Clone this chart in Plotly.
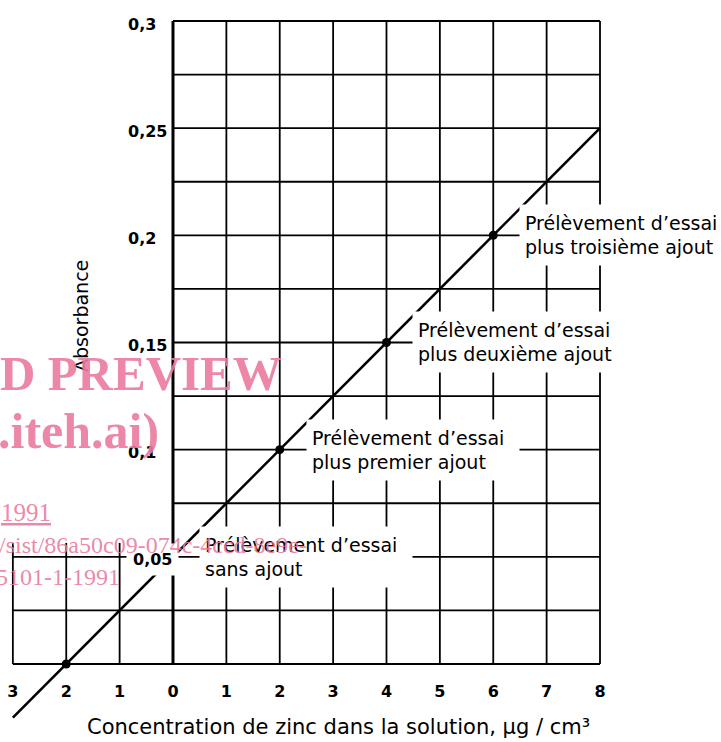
import plotly.graph_objects as go

# ---------------- data ----------------
conc = [-2, 0, 2, 4, 6]                       # µg/cm3 (point positions)
absorb = [0.0, 0.05, 0.10, 0.15, 0.20]        # absorbance at the points
fit_x = [-3, 8]                               # extent of the drawn straight line
fit_y = [-0.025, 0.25]

label_x = [6, 4, 2, 0]
label_y = [0.20, 0.15, 0.10, 0.05]
label_text = [
    "Prélèvement d’essai<br>plus troisième ajout",
    "Prélèvement d’essai<br>plus deuxième ajout",
    "Prélèvement d’essai<br>plus premier ajout",
    "Prélèvement d’essai<br>sans ajout",
]

x_tickvals = [-3, -2, -1, 0, 1, 2, 3, 4, 5, 6, 7, 8]
x_ticktext = ["3", "2", "1", "0", "1", "2", "3", "4", "5", "6", "7", "8"]
y_tickvals = [0.05, 0.10, 0.15, 0.20, 0.25, 0.30]
y_ticktext = ["0,05", "0,1", "0,15", "0,2", "0,25", "0,3"]

grid_x_main = [1, 2, 3, 4, 5, 6, 7, 8]
grid_x_left = [-3, -2, -1]
grid_y_main = [0.025, 0.05, 0.075, 0.10, 0.125, 0.15, 0.175, 0.20, 0.225, 0.25, 0.275, 0.30]
grid_y_left = [0.025, 0.05]
y_top = 0.30
y_left_top = 0.0565
x_left = -3
x_right = 8

x_title = "Concentration de zinc dans la solution, µg / cm³"
y_title = "Absorbance"

watermark = [
    ("D PREVIEW", 49, True, False, -2, 373),
    (".iteh.ai)", 50, True, False, -4, 431),
    ("1991", 25, False, True, -1, 512),
    ("/sist/86a50c09-074c-4ccd-8e9e-", 24, False, False, -3, 545),
    ("5101-1-1991", 24, False, False, -6, 577),
]

W, H = 721, 742
FONT = "DejaVu Sans"

# ---------------- grid segments ----------------
gx, gy = [], []
for x in grid_x_main:
    gx += [x, x, None]
    gy += [0, y_top, None]
for x in grid_x_left:
    gx += [x, x, None]
    gy += [0, y_left_top, None]
for y in grid_y_main:
    gx += [0, x_right, None]
    gy += [y, y, None]
for y in grid_y_left:
    gx += [x_left, 0, None]
    gy += [y, y, None]
gx += [x_left, x_right, None]
gy += [0, 0, None]

fig = go.Figure()
fig.add_trace(go.Scatter(x=gx, y=gy, mode="lines",
                         line=dict(color="black", width=1.8),
                         hoverinfo="skip", showlegend=False))
# ordinate axis (thicker)
fig.add_trace(go.Scatter(x=[0, 0], y=[0, y_top], mode="lines",
                         line=dict(color="black", width=3),
                         hoverinfo="skip", showlegend=False))
# straight line
fig.add_trace(go.Scatter(x=fit_x, y=fit_y, mode="lines",
                         line=dict(color="black", width=2.6),
                         showlegend=False))
# points
fig.add_trace(go.Scatter(x=conc, y=absorb, mode="markers",
                         marker=dict(color="black", size=9),
                         showlegend=False))

ann = []
for x, y, t in zip(label_x, label_y, label_text):
    ann.append(dict(x=x, y=y, xref="x", yref="y", text=t, showarrow=False,
                    xanchor="left", yanchor="middle", xshift=26,
                    align="left", valign="middle",
                    bgcolor="white", borderpad=5, width=202, height=50,
                    font=dict(family=FONT, size=19, color="black")))

for v, t in zip(y_tickvals, y_ticktext):
    d = dict(x=-0.88, y=v, xref="x", yref="y", text=t, showarrow=False,
             xanchor="left", yanchor="middle", yshift=-3,
             font=dict(family=FONT, size=16, color="black", weight="bold"))
    if v == 0.05:
        d.update(bgcolor="white", borderpad=6)
    ann.append(d)

ann.append(dict(x=338 / W, y=1 - 727 / H, xref="paper", yref="paper",
                text=x_title, showarrow=False, xanchor="center", yanchor="middle",
                font=dict(family=FONT, size=21, color="black")))
ann.append(dict(x=81 / W, y=1 - 316 / H, xref="paper", yref="paper",
                text=y_title, showarrow=False, textangle=-90,
                xanchor="center", yanchor="middle",
                font=dict(family=FONT, size=19, color="black")))

for t, s, b, u, px, py in watermark:
    f = dict(family="Liberation Serif", size=s, color="rgba(234,122,158,0.9)")
    if b:
        f["weight"] = "bold"
    if u:
        f["lineposition"] = "under"
    ann.append(dict(x=px / W, y=1 - py / H, xref="paper", yref="paper",
                    text=t, showarrow=False, xanchor="left", yanchor="middle",
                    font=f))

fig.update_layout(
    width=W, height=H,
    margin=dict(l=0, r=0, t=0, b=0),
    paper_bgcolor="white", plot_bgcolor="white",
    showlegend=False,
    annotations=ann,
    xaxis=dict(range=[-3.241, 10.267], showgrid=False, zeroline=False,
               showline=False, ticks="", tickvals=x_tickvals, ticktext=x_ticktext,
               tickfont=dict(family=FONT, size=16, color="black", weight="bold"),
               anchor="free", position=(H - 664) / H, ticklabelstandoff=16),
    yaxis=dict(range=[-0.0364, 0.3098], showgrid=False, zeroline=False,
               showline=False, showticklabels=False, ticks=""),
)

fig.write_html("out.html", config={"displayModeBar": False},
               post_script="document.body.style.margin='0';document.body.style.overflow='hidden';")
